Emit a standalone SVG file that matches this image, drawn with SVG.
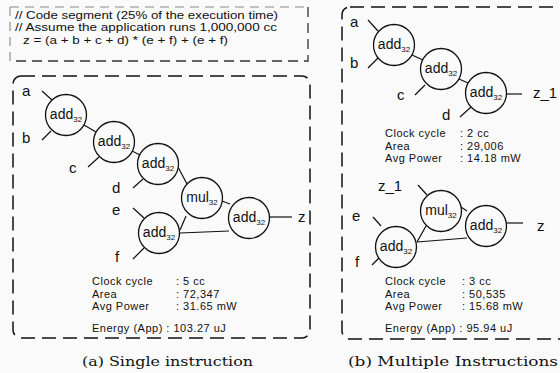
<svg xmlns="http://www.w3.org/2000/svg" width="560" height="373" viewBox="0 0 560 373">
  <style>
    .bg { fill: #fafafa; }
    .frame { fill: none; stroke: #111; stroke-width: 1.5; stroke-dasharray: 14 7; }
    .frame-light { fill: none; stroke: #888; stroke-width: 1.1; stroke-dasharray: 9 6; }
    .frame-mid { fill: none; stroke: #333; stroke-width: 1.3; stroke-dasharray: 10 6; }
    .node circle { fill: #fafafa; stroke: #111; stroke-width: 1.3; }
    .node text { font-family: "Liberation Sans", Arial, sans-serif; font-size: 14px; fill: #111; text-anchor: middle; }
    .sub { font-size: 8px; }
    .wire { stroke: #111; stroke-width: 1.2; fill: none; }
    .lbl { font-family: "Liberation Sans", Arial, sans-serif; font-size: 15px; fill: #111; }
    .code { font-family: "Liberation Sans", Arial, sans-serif; font-size: 11.5px; fill: #111; }
    .stat { font-family: "Liberation Sans", Arial, sans-serif; font-size: 11px; letter-spacing: 0.5px; fill: #111; }
    .cap { font-family: "DejaVu Serif", "Liberation Serif", serif; font-size: 13px; fill: #111; }
  </style>

  <rect class="bg" x="0" y="0" width="560" height="373"/>

  <!-- code comment box -->
  <g id="code-box">
    <path class="frame-light" d="M10,7 H308 M10,61 V7"/>
    <path class="frame-mid" d="M308,7 V61 H10"/>
    <text class="code" x="15" y="18.5" textLength="263" lengthAdjust="spacingAndGlyphs">// Code segment (25% of the execution time)</text>
    <text class="code" x="15" y="31" textLength="262" lengthAdjust="spacingAndGlyphs">// Assume the application runs 1,000,000 cc</text>
    <text class="code" x="23" y="44" textLength="205" lengthAdjust="spacingAndGlyphs">z = (a + b + c + d) * (e + f) + (e + f)</text>
  </g>

  <!-- panel frames -->
  <g id="frames">
    <rect class="frame" x="13" y="76" width="297" height="262" rx="8"/>
    <rect class="frame" x="342" y="7" width="240" height="332" rx="8"/>
  </g>

  <!-- connectors -->
  <g id="connectors">
    <!-- (a) single instruction -->
    <line class="wire" x1="42" y1="91" x2="52" y2="100"/>
    <line class="wire" x1="42" y1="140" x2="51" y2="131"/>
    <line class="wire" x1="88" y1="167" x2="99" y2="157"/>
    <line class="wire" x1="133" y1="188" x2="143" y2="179"/>
    <line class="wire" x1="133" y1="208" x2="144" y2="218"/>
    <line class="wire" x1="133" y1="259" x2="144" y2="248"/>
    <line class="wire" x1="84" y1="125" x2="96" y2="132"/>
    <line class="wire" x1="132" y1="151" x2="140" y2="155"/>
    <line class="wire" x1="178" y1="167" x2="187" y2="184"/>
    <line class="wire" x1="222" y1="201" x2="230" y2="204"/>
    <line class="wire" x1="180" y1="230" x2="186" y2="216"/>
    <line class="wire" x1="180" y1="233" x2="229" y2="231"/>
    <line class="wire" x1="269" y1="217" x2="292" y2="217"/>
    <!-- (b) multiple instructions -->
    <line class="wire" x1="368" y1="20" x2="378" y2="31"/>
    <line class="wire" x1="368" y1="68" x2="378" y2="58"/>
    <line class="wire" x1="415" y1="95" x2="425" y2="85"/>
    <line class="wire" x1="460" y1="117" x2="471" y2="107"/>
    <line class="wire" x1="412" y1="55" x2="423" y2="60"/>
    <line class="wire" x1="459" y1="79" x2="468" y2="83"/>
    <line class="wire" x1="507" y1="94" x2="522" y2="94"/>
    <line class="wire" x1="418" y1="185" x2="427" y2="195"/>
    <line class="wire" x1="373" y1="217" x2="381" y2="226"/>
    <line class="wire" x1="372" y1="265" x2="381" y2="256"/>
    <line class="wire" x1="426" y1="226" x2="417" y2="242"/>
    <line class="wire" x1="417" y1="242" x2="467" y2="238"/>
    <line class="wire" x1="461" y1="207" x2="467" y2="211"/>
    <line class="wire" x1="507" y1="223" x2="523" y2="223"/>
  </g>

  <!-- (a) single instruction nodes -->
  <g id="a-add1" class="node"><circle cx="66" cy="115" r="20.5"/><text x="66" y="119">add<tspan class="sub" dy="3">32</tspan></text></g>
  <g id="a-add2" class="node"><circle cx="114" cy="142" r="20.5"/><text x="114" y="146">add<tspan class="sub" dy="3">32</tspan></text></g>
  <g id="a-add3" class="node"><circle cx="158" cy="164" r="20.5"/><text x="158" y="168">add<tspan class="sub" dy="3">32</tspan></text></g>
  <g id="a-mul" class="node"><circle cx="202" cy="198" r="20.5"/><text x="202" y="202">mul<tspan class="sub" dy="3">32</tspan></text></g>
  <g id="a-add4" class="node"><circle cx="249" cy="218" r="20.5"/><text x="249" y="222">add<tspan class="sub" dy="3">32</tspan></text></g>
  <g id="a-add5" class="node"><circle cx="159" cy="233" r="20.5"/><text x="159" y="237">add<tspan class="sub" dy="3">32</tspan></text></g>

  <!-- (b) multiple instructions nodes -->
  <g id="b-add1" class="node"><circle cx="394" cy="45" r="20.5"/><text x="394" y="49">add<tspan class="sub" dy="3">32</tspan></text></g>
  <g id="b-add2" class="node"><circle cx="441" cy="69" r="20.5"/><text x="441" y="73">add<tspan class="sub" dy="3">32</tspan></text></g>
  <g id="b-add3" class="node"><circle cx="486" cy="93" r="20.5"/><text x="486" y="97">add<tspan class="sub" dy="3">32</tspan></text></g>
  <g id="b-mul" class="node"><circle cx="441" cy="211" r="20.5"/><text x="441" y="215">mul<tspan class="sub" dy="3">32</tspan></text></g>
  <g id="b-add4" class="node"><circle cx="486" cy="226" r="20.5"/><text x="486" y="230">add<tspan class="sub" dy="3">32</tspan></text></g>
  <g id="b-add5" class="node"><circle cx="396" cy="247" r="20.5"/><text x="396" y="251">add<tspan class="sub" dy="3">32</tspan></text></g>

  <!-- port labels -->
  <g id="labels">
    <text class="lbl" x="22" y="96">a</text>
    <text class="lbl" x="22" y="143">b</text>
    <text class="lbl" x="69" y="173">c</text>
    <text class="lbl" x="112" y="193">d</text>
    <text class="lbl" x="112" y="215">e</text>
    <text class="lbl" x="115" y="262">f</text>
    <text class="lbl" x="298" y="222">z</text>

    <text class="lbl" x="350" y="27">a</text>
    <text class="lbl" x="350" y="68">b</text>
    <text class="lbl" x="397" y="100">c</text>
    <text class="lbl" x="442" y="120">d</text>
    <text class="lbl" x="533" y="98">z_1</text>
    <text class="lbl" x="378" y="191">z_1</text>
    <text class="lbl" x="352" y="221">e</text>
    <text class="lbl" x="355" y="267">f</text>
    <text class="lbl" x="537" y="231">z</text>
  </g>

  <!-- figures of merit -->
  <g id="a-stats">
    <text class="stat" x="92" y="285">Clock cycle</text><text class="stat" x="176" y="285">: 5 cc</text>
    <text class="stat" x="92" y="297.5">Area</text><text class="stat" x="176" y="297.5">: 72,347</text>
    <text class="stat" x="92" y="310">Avg Power</text><text class="stat" x="176" y="310">: 31.65 mW</text>
    <text class="stat" x="92" y="332">Energy (App) : 103.27 uJ</text>
  </g>
  <g id="b-stats1">
    <text class="stat" x="385" y="137">Clock cycle</text><text class="stat" x="460" y="137">: 2 cc</text>
    <text class="stat" x="385" y="149.5">Area</text><text class="stat" x="460" y="149.5">: 29,006</text>
    <text class="stat" x="385" y="162">Avg Power</text><text class="stat" x="460" y="162">: 14.18 mW</text>
  </g>
  <g id="b-stats2">
    <text class="stat" x="385" y="285">Clock cycle</text><text class="stat" x="462" y="285">: 3 cc</text>
    <text class="stat" x="385" y="297.5">Area</text><text class="stat" x="462" y="297.5">: 50,535</text>
    <text class="stat" x="385" y="310">Avg Power</text><text class="stat" x="462" y="310">: 15.68 mW</text>
    <text class="stat" x="385" y="332">Energy (App) : 95.94 uJ</text>
  </g>

  <!-- captions -->
  <text class="cap" x="82" y="366" textLength="171" lengthAdjust="spacingAndGlyphs">(a) Single instruction</text>
  <text class="cap" x="348" y="366" textLength="210" lengthAdjust="spacingAndGlyphs">(b) Multiple Instructions</text>
</svg>
